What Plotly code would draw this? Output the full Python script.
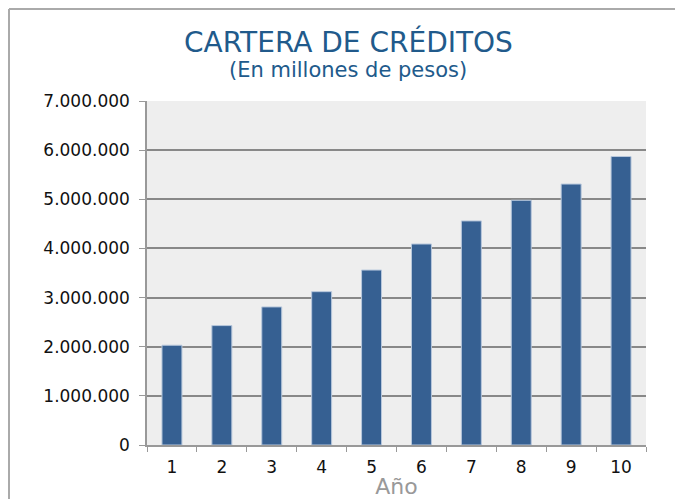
import plotly.graph_objects as go

# Data
years = ["1", "2", "3", "4", "5", "6", "7", "8", "9", "10"]
cartera = [2030000, 2430000, 2810000, 3120000, 3560000,
           4090000, 4560000, 4980000, 5310000, 5870000]
y_ticks = [0, 1000000, 2000000, 3000000, 4000000, 5000000, 6000000, 7000000]

FONT = "DejaVu Sans"
OFF = 8                     # page body margin that shifts the figure
W, H = 683 - OFF, 499 - OFF
L, R, T, B = 147 - OFF, 37, 101 - OFF, 54

fig = go.Figure()
fig.add_trace(go.Bar(
    x=years,
    y=cartera,
    marker=dict(color="#366092", line=dict(color="#b7c7dc", width=1)),
    hovertemplate="Año %{x}: %{y:,d}<extra></extra>",
))

pw, ph = W - L - R, H - T - B
fx = lambda px: (px - OFF - L) / pw          # page pixel -> paper x
fy = lambda py: 1 - (py - OFF - T) / ph      # page pixel -> paper y

fig.update_layout(
    width=W, height=H,
    margin=dict(l=L, r=R, t=T, b=B),
    paper_bgcolor="white",
    plot_bgcolor="#eeeeee",
    separators=",.",
    showlegend=False,
    bargap=0.6,
    font=dict(family=FONT, size=17, color="#111111"),
    xaxis=dict(
        title=dict(text="Año", font=dict(size=22, color="#999999"), standoff=0),
        showline=True, linecolor="#999999", linewidth=1.5,
        ticks="outside", tickson="boundaries", ticklen=5, tickcolor="#999999",
        ticklabelstandoff=6,
        showgrid=False,
        automargin=False,
    ),
    yaxis=dict(
        range=[0, 7000000],
        tickvals=y_ticks,
        tickformat=",d",
        showline=True, linecolor="#999999", linewidth=1.5,
        ticks="outside", ticklen=6, tickcolor="#999999",
        ticklabelstandoff=6,
        gridcolor="#888888", gridwidth=1.5,
        zeroline=False,
        automargin=False,
    ),
    shapes=[
        # outer frame (left and top edges only)
        dict(type="line", xref="paper", yref="paper",
             x0=fx(9), x1=fx(9), y0=fy(9), y1=fy(H + OFF + 5),
             line=dict(color="#aaaaaa", width=2)),
        dict(type="line", xref="paper", yref="paper",
             x0=fx(9), x1=fx(W + OFF + 5), y0=fy(9), y1=fy(9),
             line=dict(color="#aaaaaa", width=2)),
    ],
    annotations=[
        dict(text="CARTERA DE CRÉDITOS", xref="paper", yref="paper",
             x=fx(348), y=fy(42), xanchor="center", yanchor="middle",
             showarrow=False,
             font=dict(family=FONT, size=28, color="#215a8b")),
        dict(text="(En millones de pesos)", xref="paper", yref="paper",
             x=fx(348), y=fy(70), xanchor="center", yanchor="middle",
             showarrow=False,
             font=dict(family=FONT, size=21, color="#215a8b")),
    ],
)

fig.write_html("out.html")
